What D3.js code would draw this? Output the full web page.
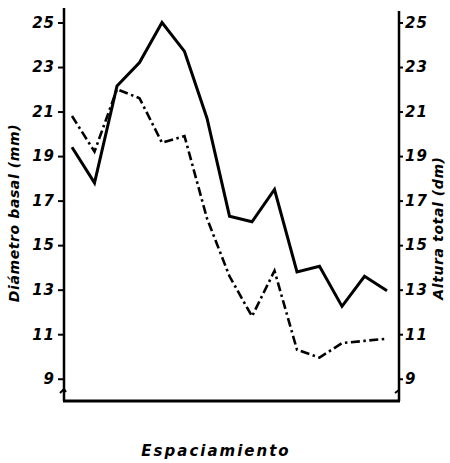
<!DOCTYPE html>
<html lang="es">
<head>
<meta charset="UTF-8">
<title>Diámetro basal y altura total</title>
<script src="https://cdn.jsdelivr.net/npm/d3@7"></script>
<style>
    body{ margin:0; background:#fff; }
    svg text{
        font-family: "DejaVu Sans", sans-serif;
        font-weight: bold;
        font-style: italic;
        fill: #000;
    }
    .tick text{ font-size: 15px; letter-spacing: 1px; }
    .domain{ stroke-width: 2.5px; }
    .tick line{ stroke-width: 2px; }
</style>
</head>
<body>
<svg id="canvas" width="450" height="463"></svg>
<script>
    // positions along the spacing axis (no tick labels in the original)
    let positions = d3.range(15);
    // Diámetro basal (mm) - solid line
    let diametro = [19.4, 17.8, 22.15, 23.2, 25.0, 23.7, 20.7, 16.3, 16.05, 17.5, 13.8, 14.05, 12.25, 13.6, 12.95];
    // Altura total (dm) - dash-dot line
    let altura = [20.8, 19.2, 22.0, 21.6, 19.6, 19.9, 16.2, 13.6, 11.8, 13.85, 10.3, 9.95, 10.6, 10.7, 10.8];
    let yTicks = [9, 11, 13, 15, 17, 19, 21, 23, 25];

    let svg = d3.select('#canvas');
    let mLeft = 64, mRight = 399, mTop = 8, mBottom = 401;

    let x = d3.scaleLinear().domain([0, 14]).range([72, 387]);
    let y = d3.scaleLinear().domain([8, 25]).range([mBottom, 22.5]);

    // left axis
    let gl = svg.append('g').attr('transform', `translate(${mLeft},0)`)
        .call(d3.axisLeft(y).tickValues(yTicks).tickSize(6).tickPadding(3).tickSizeOuter(0));
    gl.select('.domain').attr('d', `M0,${mTop}V${mBottom}`);

    // right axis
    let gr = svg.append('g').attr('transform', `translate(${mRight},0)`)
        .call(d3.axisRight(y).tickValues(yTicks).tickSize(4).tickPadding(2).tickSizeOuter(0));
    gr.select('.domain').attr('d', `M0,${mTop + 3}V${mBottom}`);

    // bottom line
    svg.append('line')
        .attr('x1', mLeft - 1).attr('x2', mRight + 1)
        .attr('y1', mBottom).attr('y2', mBottom)
        .attr('stroke', '#000').attr('stroke-width', 3);

    // axis break marks
    let by = 391;
    svg.append('path')
        .attr('d', `M${mLeft - 4},${by + 2}L${mLeft},${by - 2}L${mLeft + 2},${by + 1}`)
        .attr('fill', 'none').attr('stroke', '#000').attr('stroke-width', 2);
    svg.append('path')
        .attr('d', `M${mRight - 4},${by + 2}L${mRight},${by - 1}`)
        .attr('fill', 'none').attr('stroke', '#000').attr('stroke-width', 2);

    let line = d3.line().x((d, i) => x(positions[i])).y(d => y(d));

    svg.append('path').datum(diametro)
        .attr('d', line)
        .attr('fill', 'none').attr('stroke', '#000')
        .attr('stroke-width', 3).attr('stroke-linejoin', 'miter');

    svg.append('path').datum(altura)
        .attr('d', line)
        .attr('fill', 'none').attr('stroke', '#000')
        .attr('stroke-width', 2.6)
        .attr('stroke-dasharray', '9,3.5,2.5,3.5');

    // titles
    svg.append('text')
        .attr('transform', 'translate(19,213) rotate(-90)')
        .attr('text-anchor', 'middle')
        .style('font-size', '14px')
        .style('letter-spacing', '0.6px')
        .text('Diámetro basal (mm)');

    svg.append('text')
        .attr('transform', 'translate(443,228) rotate(-90)')
        .attr('text-anchor', 'middle')
        .style('font-size', '14px')
        .style('letter-spacing', '0.6px')
        .text('Altura total (dm)');

    svg.append('text')
        .attr('x', 216).attr('y', 456)
        .attr('text-anchor', 'middle')
        .style('font-size', '15px')
        .style('letter-spacing', '2px')
        .text('Espaciamiento');
</script>
</body>
</html>
